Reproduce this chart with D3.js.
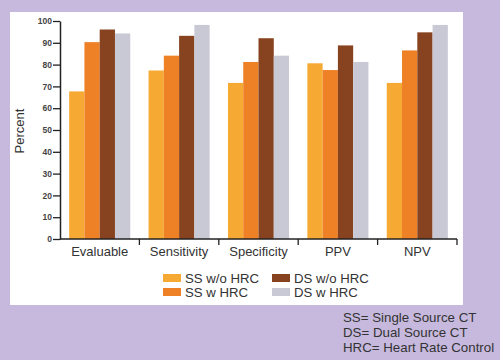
<!DOCTYPE html>
<html><head><meta charset="utf-8">
<script src="https://cdn.jsdelivr.net/npm/d3@7"></script>
<style>html,body{margin:0;padding:0;background:#c6b9dd;}svg{display:block;}</style>
</head><body>
<script>
const categories = ["Evaluable", "Sensitivity", "Specificity", "PPV", "NPV"];
const seriesNames = ["SS w/o HRC", "SS w HRC", "DS w/o HRC", "DS w HRC"];
const ssWithoutHRC = [67.7, 77.3, 71.6, 80.6, 71.6];
const ssWithHRC = [90.3, 84.1, 81.2, 77.5, 86.5];
const dsWithoutHRC = [96.1, 93.2, 92.1, 88.8, 94.8];
const dsWithHRC = [94.3, 98.2, 84.1, 81.2, 98.2];
const yTicks = [0, 10, 20, 30, 40, 50, 60, 70, 80, 90, 100];
const footnotes = ["SS= Single Source CT", "DS= Dual Source CT", "HRC= Heart Rate Control"];
const colors = ["#f6aa33", "#ee8025", "#87431f", "#c9c9d6"];

const seriesValues = [ssWithoutHRC, ssWithHRC, dsWithoutHRC, dsWithHRC];
const W = 500, H = 360;
const svg = d3.select("body").append("svg").attr("width", W).attr("height", H);
svg.append("rect").attr("width", W).attr("height", H).attr("fill", "#c6b9dd");
svg.append("rect").attr("x", 10).attr("y", 12).attr("width", 453).attr("height", 293).attr("fill", "#ffffff");

const font = "Liberation Sans, Arial, sans-serif";
const x0 = d3.scaleBand().domain(categories).range([60, 457]).padding(0);
const x1 = d3.scaleBand().domain(seriesNames).range([0, x0.bandwidth()]).paddingInner(0).paddingOuter(0.6);
const y = d3.scaleLinear().domain([0, 100]).range([239, 21]);

const groups = svg.append("g").selectAll("g").data(categories).join("g")
  .attr("transform", d => `translate(${x0(d)},0)`);
groups.selectAll("rect").data((c, i) => seriesNames.map((s, j) => ({s, v: seriesValues[j][i], j})))
  .join("rect")
  .attr("x", d => x1(d.s)).attr("width", x1.bandwidth())
  .attr("y", d => y(d.v)).attr("height", d => y(0) - y(d.v))
  .attr("fill", d => colors[d.j]);

// y axis
const yAxis = svg.append("g").attr("transform", "translate(60,0)")
  .call(d3.axisLeft(y).tickValues(yTicks).tickSize(7).tickPadding(1).tickSizeOuter(0));
yAxis.select(".domain").attr("stroke", "#222").attr("stroke-width", 1.5);
yAxis.selectAll(".tick line").attr("stroke", "#222").attr("stroke-width", 1.3);
yAxis.selectAll("text").attr("font-family", font).attr("font-size", 8.5).attr("font-weight", "bold").attr("fill", "#444");

// x axis
const xAxisG = svg.append("g").attr("transform", "translate(0,239)");
xAxisG.append("line").attr("x1", 60).attr("x2", 457).attr("stroke", "#222").attr("stroke-width", 1.5);
xAxisG.selectAll("line.sep").data(categories.slice(1).concat(["end"])).join("line").attr("class", "sep")
  .attr("x1", d => d === "end" ? x0.range()[1] : x0(d))
  .attr("x2", d => d === "end" ? x0.range()[1] : x0(d))
  .attr("y1", 0).attr("y2", 6).attr("stroke", "#222").attr("stroke-width", 1.3);
xAxisG.selectAll("text").data(categories).join("text")
  .attr("x", d => x0(d) + x0.bandwidth() / 2).attr("y", 17)
  .attr("text-anchor", "middle").attr("font-family", font).attr("font-size", 13).attr("fill", "#333")
  .text(d => d);

// y label
svg.append("text").attr("transform", "translate(24,131) rotate(-90)")
  .attr("text-anchor", "middle").attr("font-family", font).attr("font-size", 13).attr("fill", "#333")
  .text("Percent");

// legend
const legPos = [[163, 278], [163, 292], [272, 278], [272, 292]];
const leg = svg.append("g").selectAll("g").data(seriesNames).join("g")
  .attr("transform", (d, i) => `translate(${legPos[i][0]},${legPos[i][1]})`);
leg.append("rect").attr("x", 0).attr("y", -4).attr("width", 18).attr("height", 8).attr("fill", (d, i) => colors[i]);
leg.append("text").attr("x", 22).attr("y", 0).attr("dy", "0.35em")
  .attr("font-family", font).attr("font-size", 13.2).attr("fill", "#333").text(d => d);

// footnotes
svg.append("g").selectAll("text").data(footnotes).join("text")
  .attr("x", 343).attr("y", (d, i) => 317 + i * 15).attr("dy", "0.35em")
  .attr("font-family", font).attr("font-size", 13.3).attr("fill", "#333").text(d => d);
</script>
</body></html>
